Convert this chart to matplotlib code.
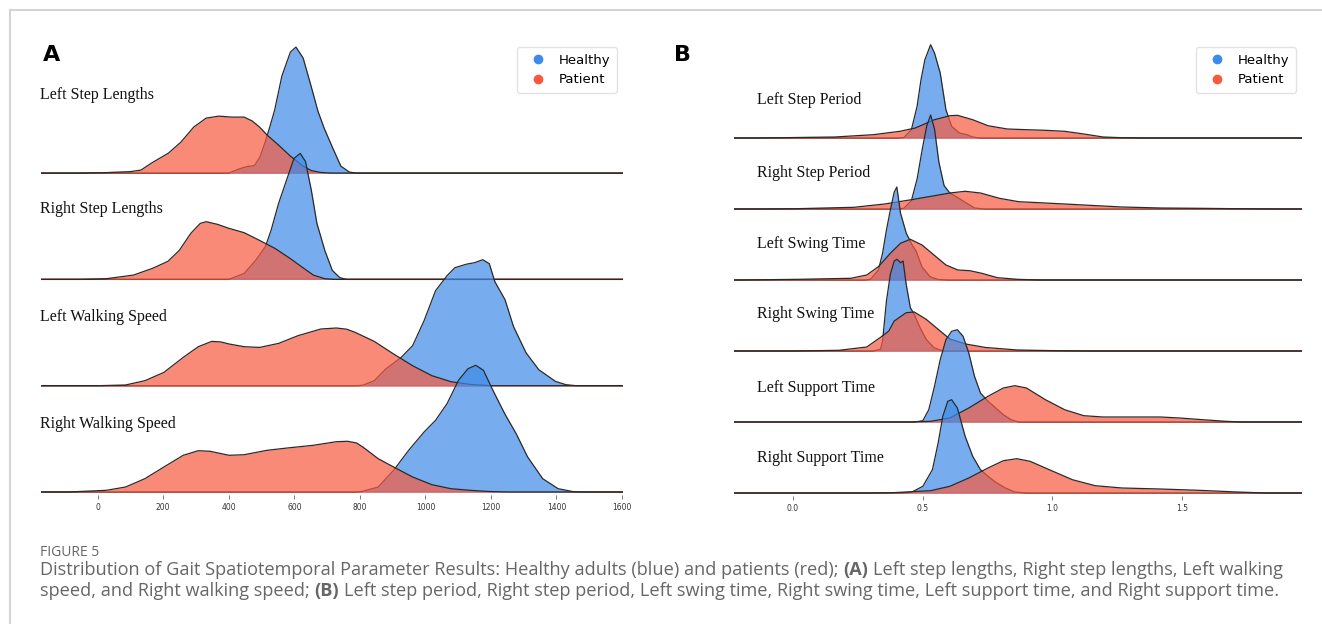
import matplotlib.pyplot as plt
from matplotlib.lines import Line2D
import numpy as np

W, H = 1322, 624

# ---- Panel A: ridge heights (scaled density, arbitrary units) ----
a_labels = ["Left Step Lengths", "Right Step Lengths", "Left Walking Speed", "Right Walking Speed"]
a_ticks = [0, 200, 400, 600, 800, 1000, 1200, 1400, 1600]

lsl_healthy_x = [400, 430, 455, 478, 495, 511, 525, 540, 562, 588, 605, 627, 652, 672, 691, 716, 742, 768, 790]
lsl_healthy_h = [0, 4, 6.5, 7.5, 16, 31, 46, 63, 97, 121, 126, 115, 86, 62, 45, 26, 7, 1, 0]
lsl_patient_x = [-50, 27, 100, 132, 164, 216, 254, 293, 331, 370, 408, 447, 472, 494, 517, 552, 588, 627, 652, 680, 710]
lsl_patient_h = [0, 0.5, 1.5, 3, 10, 20, 31, 46, 55, 57, 56, 56, 52, 46, 38, 28, 17, 7, 2.5, 0.7, 0]

rsl_healthy_x = [400, 447, 482, 512, 529, 552, 576, 599, 618, 634, 652, 669, 693, 716, 739, 760]
rsl_healthy_h = [0, 6, 19, 33, 49, 76, 99, 121, 126, 118, 89, 56, 29, 9, 1.7, 0]
rsl_patient_x = [-50, 27, 109, 167, 214, 249, 284, 313, 331, 366, 401, 447, 494, 541, 587, 622, 658, 693, 720]
rsl_patient_h = [0, 0.7, 4.3, 11, 18, 29, 46, 56, 57.7, 55, 51, 46.7, 39, 31, 21, 12.7, 4.3, 0.7, 0]

lws_healthy_x = [790, 809, 844, 879, 926, 961, 996, 1031, 1066, 1090, 1125, 1150, 1175, 1195, 1212, 1243,
                 1269, 1307, 1346, 1397, 1429, 1460]
lws_healthy_h = [0, 0.5, 5, 16.7, 28.3, 40, 65, 95, 110, 118, 121.5, 123, 126, 122, 104, 86, 59, 33, 16, 4.3, 1, 0]
lws_patient_x = [0, 85, 144, 202, 261, 307, 348, 375, 401, 447, 494, 552, 611, 681, 728, 760, 786, 844, 903,
                 961, 1020, 1078, 1136, 1200]
lws_patient_h = [0, 0.7, 5, 13.3, 28.3, 39, 44.3, 43.8, 41.7, 39, 38.3, 42.3, 50, 56.7, 57.7, 56.5, 53.3, 44.3,
                 31.7, 20, 10, 4, 1.3, 0]

rws_healthy_x = [790, 809, 856, 903, 949, 996, 1031, 1066, 1101, 1130, 1154, 1177, 1206, 1242, 1277, 1312,
                 1358, 1405, 1452, 1480]
rws_healthy_h = [0, 0.7, 5, 21.7, 41.7, 60, 71.7, 88.3, 111.7, 123.3, 126.7, 121.7, 101.7, 78.3, 58.3, 35,
                 13.3, 3.3, 0.3, 0]
rws_patient_x = [-90, 27, 85, 144, 202, 261, 307, 343, 401, 447, 517, 587, 658, 728, 763, 790, 809, 856, 903,
                 961, 1020, 1078, 1136, 1195, 1250]
rws_patient_h = [0, 1.7, 5, 13.3, 25, 36.7, 41.3, 40.7, 36.7, 37.3, 41.7, 44.3, 46.7, 50.3, 50.7, 49, 45, 33.3,
                 25, 15, 7.3, 3.3, 1.7, 0.5, 0]

# ---- Panel B ----
b_labels = ["Left Step Period", "Right Step Period", "Left Swing Time", "Right Swing Time",
            "Left Support Time", "Right Support Time"]
b_ticks = [0.0, 0.5, 1.0, 1.5]

lsp_healthy_x = [0.40, 0.428, 0.457, 0.479, 0.494, 0.509, 0.531, 0.546, 0.568, 0.59, 0.612, 0.642, 0.671, 0.693, 0.72]
lsp_healthy_h = [0, 0.5, 8.3, 31.7, 58.3, 78.3, 93.3, 85, 65, 28.3, 11.7, 5, 3.3, 1, 0]
lsp_patient_x = [-0.13, 0.162, 0.31, 0.413, 0.472, 0.546, 0.605, 0.634, 0.693, 0.752, 0.826, 0.9, 0.973,
                 1.047, 1.121, 1.195, 1.268, 1.35]
lsp_patient_h = [0, 1, 3.3, 6.7, 10, 18.3, 22.3, 22.7, 18.3, 12.3, 9, 8.3, 7.7, 6.7, 4, 1, 0.3, 0]

rsp_healthy_x = [0.40, 0.428, 0.457, 0.479, 0.499, 0.516, 0.531, 0.546, 0.563, 0.583, 0.605, 0.634, 0.664, 0.70, 0.74]
rsp_healthy_h = [0, 0.7, 8.3, 30, 60, 83, 94, 80, 46.7, 23.3, 16, 11.7, 6.7, 1, 0]
rsp_patient_x = [-0.1, 0.015, 0.236, 0.354, 0.457, 0.546, 0.605, 0.664, 0.723, 0.796, 0.87, 0.973, 1.121,
                 1.268, 1.416, 1.563, 1.711, 1.85]
rsp_patient_h = [0, 0.3, 1.7, 5, 9.3, 13.3, 16, 17.7, 16, 10.7, 7.3, 6, 4, 2, 1, 0.7, 0.3, 0]

lswt_healthy_x = [0.28, 0.30, 0.33, 0.346, 0.361, 0.376, 0.391, 0.401, 0.415, 0.437, 0.46, 0.475, 0.498, 0.529, 0.56, 0.6]
lswt_healthy_h = [0, 0.7, 10, 26.7, 50, 70, 88, 93, 67, 47, 35, 29, 13, 3.3, 0.5, 0]
lswt_patient_x = [-0.2, 0.025, 0.224, 0.285, 0.33, 0.376, 0.415, 0.453, 0.498, 0.544, 0.59, 0.636, 0.682,
                  0.728, 0.788, 0.865, 0.95]
lswt_patient_h = [0, 0.7, 1.7, 5, 13.3, 26.7, 36.7, 40.7, 35, 25, 15, 10, 9.3, 6.7, 2.3, 0.7, 0]

rswt_healthy_x = [0.31, 0.338, 0.346, 0.361, 0.376, 0.391, 0.402, 0.415, 0.425, 0.437, 0.453, 0.468, 0.491,
                  0.514, 0.544, 0.58]
rswt_healthy_h = [0, 1.7, 10, 50, 76.7, 90, 91.7, 88.3, 90, 66.7, 43.3, 36.7, 23, 11.7, 3.3, 0]
rswt_patient_x = [0.0, 0.178, 0.285, 0.34, 0.37, 0.391, 0.437, 0.468, 0.514, 0.56, 0.605, 0.666, 0.743,
                  0.865, 1.017, 1.15]
rswt_patient_h = [0, 0.7, 4, 14, 20, 30, 38.3, 39, 31.7, 21.7, 12, 7, 3.5, 1, 0.3, 0]

lsut_healthy_x = [0.47, 0.501, 0.524, 0.546, 0.568, 0.59, 0.612, 0.634, 0.656, 0.678, 0.70, 0.723, 0.752,
                  0.782, 0.811, 0.841, 0.87]
lsut_healthy_h = [0, 1.3, 12.3, 35.7, 62.3, 82.3, 90.7, 92.3, 85.7, 69, 45.7, 29, 20.7, 14, 7.3, 2.3, 0]
lsut_patient_x = [0.45, 0.531, 0.605, 0.678, 0.752, 0.811, 0.855, 0.90, 0.973, 1.047, 1.121, 1.195, 1.313,
                  1.416, 1.49, 1.578, 1.667, 1.73]
lsut_patient_h = [0, 0.7, 4, 14, 25.7, 34, 36.3, 34, 22.3, 12.3, 6.3, 5, 5, 5, 4, 2.3, 0.7, 0]

rsut_healthy_x = [0.42, 0.457, 0.501, 0.538, 0.56, 0.578, 0.597, 0.612, 0.634, 0.664, 0.693, 0.723, 0.752,
                  0.782, 0.819, 0.855, 0.9]
rsut_healthy_h = [0, 0.7, 6.7, 23.3, 50, 76.7, 91.7, 93.3, 85, 56.7, 36.7, 23.3, 16.7, 10.7, 5, 1, 0]
rsut_patient_x = [0.3, 0.383, 0.531, 0.605, 0.678, 0.752, 0.811, 0.863, 0.914, 0.988, 1.077, 1.165, 1.268,
                  1.416, 1.563, 1.711, 1.82]
rsut_patient_h = [0, 0.3, 2.3, 6.7, 15, 25, 32.3, 34.3, 31.7, 23.3, 13.3, 7.3, 5, 4, 2.7, 1, 0]

a_rows = [(lsl_healthy_x, lsl_healthy_h, lsl_patient_x, lsl_patient_h),
          (rsl_healthy_x, rsl_healthy_h, rsl_patient_x, rsl_patient_h),
          (lws_healthy_x, lws_healthy_h, lws_patient_x, lws_patient_h),
          (rws_healthy_x, rws_healthy_h, rws_patient_x, rws_patient_h)]
b_rows = [(lsp_healthy_x, lsp_healthy_h, lsp_patient_x, lsp_patient_h),
          (rsp_healthy_x, rsp_healthy_h, rsp_patient_x, rsp_patient_h),
          (lswt_healthy_x, lswt_healthy_h, lswt_patient_x, lswt_patient_h),
          (rswt_healthy_x, rswt_healthy_h, rswt_patient_x, rswt_patient_h),
          (lsut_healthy_x, lsut_healthy_h, lsut_patient_x, lsut_patient_h),
          (rsut_healthy_x, rsut_healthy_h, rsut_patient_x, rsut_patient_h)]

BLUE = '#3d8be8'
RED = '#f8593f'
EDGE = '#2a2a2a'

fig = plt.figure(figsize=(W / 100, H / 100), dpi=100)


def px_axes(x0, x1, y_top, y_bot):
    return fig.add_axes([x0 / W, 1 - y_bot / H, (x1 - x0) / W, (y_bot - y_top) / H])


def ridge(ax, x, h, base, step, color, z, xlim):
    xs = [xlim[0]] + list(x) + [xlim[1]]
    ys = base + np.array([0] + list(h) + [0]) / step
    ax.fill_between(xs, base, ys, color=color, alpha=0.7, lw=0, zorder=z)
    ax.plot(xs, ys, color=EDGE, lw=0.9, zorder=z + 1, solid_joinstyle='round')


def panel(x0, x1, y_bot_base, step, xlim, rows, labels, lifts, label_x, ticks, ticklabels):
    ax = px_axes(x0, x1, 30, y_bot_base + 3)
    ax.set_xlim(*xlim)
    ax.set_ylim(-3 / step, (y_bot_base - 30) / step)
    ax.set_facecolor('none')
    for s in ax.spines.values():
        s.set_visible(False)
    ax.set_yticks([])
    n = len(rows)
    for i, (hx, hh, px, ph) in enumerate(rows):
        base = n - 1 - i
        z = 10 * i
        ax.axhline(base, color=RED, lw=1.3, alpha=0.6, zorder=z)
        ridge(ax, hx, hh, base, step, BLUE, z + 1, xlim)
        ridge(ax, px, ph, base, step, RED, z + 3, xlim)
        yc = y_bot_base - base * step - lifts[i]
        fig.text(label_x / W, 1 - yc / H, labels[i], family='Liberation Serif', fontsize=11.5,
                 va='center', ha='left', color='#111')
    ax.set_xticks(ticks)
    ax.set_xticklabels(ticklabels)
    ax.tick_params(axis='x', length=3, width=0.6, color='#666', pad=2.5, labelsize=5.5, labelcolor='#333')
    return ax


ax_a = panel(41, 623, 492, 106.3, (-173, 1603), a_rows, a_labels, [78, 70, 69, 68], 40,
             a_ticks, [str(t) for t in a_ticks])
ax_b = panel(734, 1302, 493, 71, (-0.226, 1.961), b_rows, b_labels, [38, 36, 36, 37, 34, 35], 757,
             b_ticks, ['%.1f' % t for t in b_ticks])

# panel letters
fig.text(43 / W, 1 - 55 / H, 'A', fontsize=16, fontweight='bold', va='center', ha='left')
fig.text(674 / W, 1 - 55 / H, 'B', fontsize=16, fontweight='bold', va='center', ha='left')

# legends
handles = [Line2D([], [], marker='o', ls='', color=BLUE, markersize=6, label='Healthy'),
           Line2D([], [], marker='o', ls='', color=RED, markersize=6, label='Patient')]
for xr in (617, 1296):
    fig.legend(handles=handles, loc='upper right', bbox_to_anchor=(xr / W, 1 - 47 / H),
               fontsize=9.5, frameon=True, edgecolor='#dddddd', handletextpad=0.5,
               borderpad=0.5, labelspacing=0.5, handlelength=2.2, borderaxespad=0)

# outer frame
fig.add_artist(Line2D([10 / W, 1], [1 - 10 / H, 1 - 10 / H], color='#d4d4d4', lw=1.5))
fig.add_artist(Line2D([10 / W, 10 / W], [1 - 10 / H, 0], color='#d4d4d4', lw=1.5))

# caption
CAP = '#666666'
fig.text(40 / W, 1 - 552 / H, 'FIGURE 5', family='Open Sans', fontsize=10, color=CAP, va='center')

line1 = [("Distribution of Gait Spatiotemporal Parameter Results: Healthy adults (blue) and patients (red);", False),
         ("(A)", True),
         ("Left step lengths, Right step lengths, Left walking", False)]
line2 = [("speed, and Right walking speed;", False),
         ("(B)", True),
         ("Left step period, Right step period, Left swing time, Right swing time, Left support time, and Right support time.", False)]

renderer = fig.canvas.get_renderer()


def text_w(s, size, bold):
    t = fig.text(0, 0, s, family='Open Sans', fontsize=size, fontweight='bold' if bold else 'normal')
    w = t.get_window_extent(renderer).width
    t.remove()
    return w


def rich_width(parts, size):
    sp = text_w('x x', size, False) - text_w('xx', size, False)
    return sum(text_w(s, size, b) for s, b in parts) + sp * (len(parts) - 1)


def rich_line(parts, x, y, size):
    sp = text_w('x x', size, False) - text_w('xx', size, False)
    for s, b in parts:
        fig.text(x / W, 1 - y / H, s, family='Open Sans', fontsize=size, color=CAP, va='center',
                 fontweight='bold' if b else 'normal')
        x += text_w(s, size, b) + sp


cap_size = 12 * 2482 / (rich_width(line1, 12) + rich_width(line2, 12))
rich_line(line1, 40, 570, cap_size)
rich_line(line2, 40, 591, cap_size)

fig.savefig('out.png', dpi=100)
